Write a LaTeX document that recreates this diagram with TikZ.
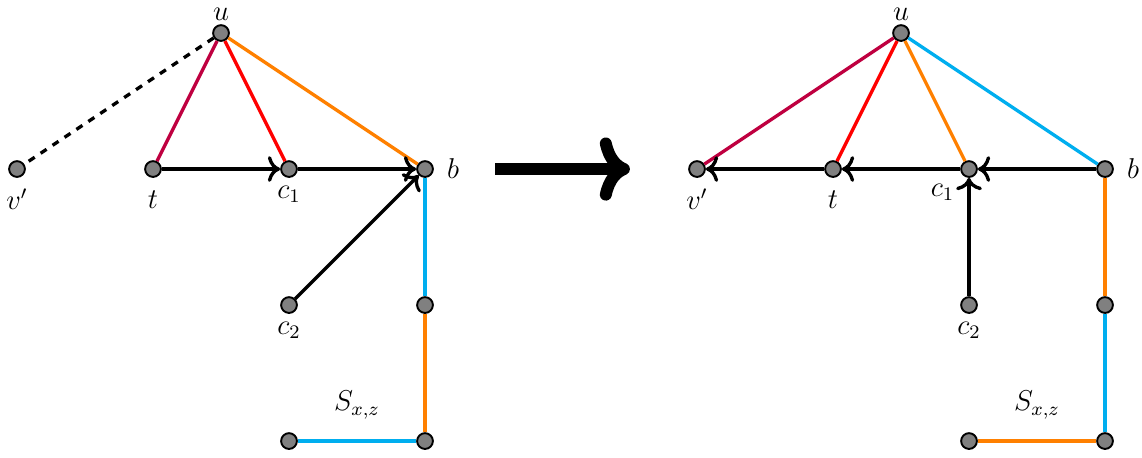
\documentclass[tikz,border=0pt]{standalone}
\usepackage{amsmath, amssymb}
\usepackage{xcolor}
\usepackage{tikz}
\usetikzlibrary{calc, arrows.meta, positioning}

\definecolor{xanh}{RGB}{0,174,239}
\definecolor{tim}{RGB}{191,0,64}
\definecolor{cam}{RGB}{255,128,0}

\tikzset{
    dinh/.style={circle, draw, thick, fill=gray, inner sep=0pt, minimum size=6.6pt},
    canh/.style={line width=1.4pt},
    cung/.style={line width=1.4pt, -{To[scale=1.1]}},
    every label/.append style={font=\large}
}

\begin{document}
\begin{tikzpicture}[x=2cm, y=2cm]

    \useasboundingbox (-0.125,-2.118) rectangle (8.272,1.243);

    % =================================================================
    % 1. ĐỒ THỊ BÊN TRÁI
    % =================================================================
    \node[dinh, label={[yshift=-2pt]above:{$u$}}] (uL) at (1.5,1) {};
    \node[dinh, label={[yshift=-1pt]below:{$v'$}}] (vL) at (0,0) {};
    \node[dinh, label={[yshift=-2pt]below:{$t$}}] (tL) at (1,0) {};
    \node[dinh, label=below:{$c_1$}] (caL) at (2,0) {};
    \node[dinh, label={[xshift=2pt]right:{$b$}}] (bL) at (3,0) {};
    \node[dinh, label=below:{$c_2$}] (cbL) at (2,-1) {};
    \node[dinh] (mL) at (3,-1) {};
    \node[dinh] (pL) at (3,-2) {};
    \node[dinh] (qL) at (2,-2) {};
    \node[font=\large] (sL) at (2.5,-1.735) {$S_{x,z}$};

    % Các cạnh nối với u
    \draw[canh, dashed] (uL) -- (vL);
    \draw[canh, tim] (uL) -- (tL);
    \draw[canh, red] (uL) -- (caL);
    \draw[canh, cam] (uL) -- (bL);

    % Các cung có hướng
    \draw[cung] (tL) -- (caL);
    \draw[cung] (caL) -- (bL);
    \draw[cung] (cbL) -- (bL);

    % Đường đi S_{x,z}
    \draw[canh, xanh] (bL) -- (mL);
    \draw[canh, cam] (mL) -- (pL);
    \draw[canh, xanh] (pL) -- (qL);

    % =================================================================
    % 2. MŨI TÊN LỚN Ở GIỮA
    % =================================================================
    \coordinate (dauMui) at (3.515,0);
    \coordinate (cuoiMui) at (4.507,0);
    \draw[line width=5pt, -{To[round]}] (dauMui) -- (cuoiMui);

    % =================================================================
    % 3. ĐỒ THỊ BÊN PHẢI
    % =================================================================
    \node[dinh, label={[yshift=-2pt]above:{$u$}}] (uR) at (6.5,1) {};
    \node[dinh, label={[yshift=-1pt]below:{$v'$}}] (vR) at (5,0) {};
    \node[dinh, label={[yshift=-2pt]below:{$t$}}] (tR) at (6,0) {};
    \node[dinh, label=below left:{$c_1$}] (caR) at (7,0) {};
    \node[dinh, label={[xshift=2pt]right:{$b$}}] (bR) at (8,0) {};
    \node[dinh, label=below:{$c_2$}] (cbR) at (7,-1) {};
    \node[dinh] (mR) at (8,-1) {};
    \node[dinh] (pR) at (8,-2) {};
    \node[dinh] (qR) at (7,-2) {};
    \node[font=\large] (sR) at (7.5,-1.735) {$S_{x,z}$};

    % Các cạnh nối với u
    \draw[canh, tim] (uR) -- (vR);
    \draw[canh, red] (uR) -- (tR);
    \draw[canh, cam] (uR) -- (caR);
    \draw[canh, xanh] (uR) -- (bR);

    % Các cung có hướng (đảo chiều)
    \draw[cung] (bR) -- (caR);
    \draw[cung] (caR) -- (tR);
    \draw[cung] (tR) -- (vR);
    \draw[cung] (cbR) -- (caR);

    % Đường đi S_{x,z}
    \draw[canh, cam] (bR) -- (mR);
    \draw[canh, xanh] (mR) -- (pR);
    \draw[canh, cam] (pR) -- (qR);

\end{tikzpicture}
\end{document}
